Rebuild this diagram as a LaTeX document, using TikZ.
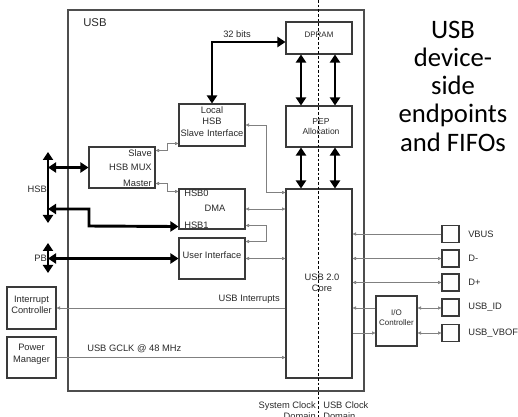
\documentclass[tikz,border=0pt]{standalone}
\usepackage{fontspec}
\setmainfont{Liberation Sans}
\newfontfamily\bigfont{Carlito}
\usetikzlibrary{arrows.meta,fit,calc}
\definecolor{boxc}{HTML}{3A3A3A}
\definecolor{sigc}{HTML}{808080}
\definecolor{txtc}{HTML}{2A2A2A}
\tikzset{
  box/.style={draw=boxc, line width=0.8pt, inner sep=0pt, fill=white},
  pin/.style={draw=boxc, line width=0.8pt, inner sep=0pt, fill=white, minimum width=12.75pt, minimum height=12.75pt},
  sig/.style={draw=sigc, line width=0.45pt, >={Triangle[length=2.6pt,width=2.4pt]}},
  bus/.style={line width=2.2pt, >={Triangle[length=6pt,width=7.5pt]}},
  lbl/.style={font=\fontsize{7}{8.6}\selectfont, text=txtc, inner sep=0pt},
  small/.style={font=\fontsize{6}{7.5}\selectfont, text=txtc, inner sep=0pt},
}
\begin{document}
\begin{tikzpicture}[x=0.75pt,y=-0.75pt]
\useasboundingbox (0,0) rectangle (518,417);
% outer USB box
\node[draw=boxc!90, line width=1.1pt, inner sep=0pt, fit={(68,10) (364,391)}] (usb) {};
\node[lbl, font=\fontsize{8.5}{10}\selectfont, anchor=west] (usblbl) at (83,23) {USB};
% boxes
\node[box, fit={(286,22) (352,54)}, small] (dpram) {DPRAM};
\node[box, fit={(286,106) (352,147)}] (pep) {};
\node[small, font=\fontsize{6.4}{8}\selectfont, align=center] (peptxt) at (321,126.5) {PEP\\Allocation};
\node[box, fit={(286,189) (352,378)}] (core) {};
\node[lbl, align=center] (coretxt) at (322,283) {USB 2.0\\Core};
\node[box, fit={(179,104) (245,146)}, lbl, align=center] (local) {Local\\HSB\\Slave Interface};
\node[box, fit={(89,147) (155,188)}] (mux) {};
\node[lbl, anchor=east] (slave) at (152,153) {Slave};
\node[lbl, anchor=east] (muxtxt) at (152,167.5) {HSB MUX};
\node[lbl, anchor=east] (master) at (152,183) {Master};
\node[box, fit={(179,189) (245,229)}] (dma) {};
\node[lbl, anchor=west] (hsb0) at (184,193) {HSB0};
\node[lbl] (dmatxt) at (215,208) {DMA};
\node[lbl, anchor=west] (hsb1) at (184,225) {HSB1};
\node[box, fit={(179,238) (245,279)}, lbl] (ui) {User Interface};
\node[box, fit={(7,287) (56,329)}, lbl, align=center] (intc) {Interrupt\\Controller};
\node[box, fit={(7,337) (56,378)}, lbl, align=center] (pm) {Power\\Manager};
\node[box, fit={(376,296) (417,346)}, small, align=center] (io) {I/O\\Controller};
% pins
\node[pin] (vbus) at (450.5,234) {};
\node[pin] (dm) at (450.5,258.5) {};
\node[pin] (dp) at (450.5,282.5) {};
\node[pin] (id) at (450.5,307.5) {};
\node[pin] (vbof) at (450.5,333) {};
\node[lbl, anchor=west] (vbusl) at (468,234) {VBUS};
\node[lbl, anchor=west] (dml) at (468,258.5) {D-};
\node[lbl, anchor=west] (dpl) at (468,282.5) {D+};
\node[lbl, anchor=west] (idl) at (468,307.5) {USB\_ID};
\node[lbl, anchor=west] (vbofl) at (468,333) {USB\_VBOF};
% thick buses
\draw[bus,<->] (local.north) |- ([yshift=-3pt]dpram.west);
\node[lbl] (bits) at (237,34) {32 bits};
\draw[bus,<->] ([xshift=-13.5pt]dpram.south) -- ([xshift=-13.5pt]pep.north);
\draw[bus,<->] ([xshift=12pt]dpram.south) -- ([xshift=12pt]pep.north);
\draw[bus,<->] ([xshift=-13.5pt]pep.south) -- ([xshift=-13.5pt]core.north);
\draw[bus,<->] ([xshift=12pt]pep.south) -- ([xshift=12pt]core.north);
\coordinate (hsbtop) at (48,152);
\coordinate (hsbbot) at (48,223);
\draw[bus,<->] (hsbbot) -- (hsbtop);
\draw[bus,<->] (mux.west -| hsbtop) -- (mux.west);
\coordinate (hsbtap) at (48,209);
\draw[bus,<->] (hsbtap) -| (89,226) -- ([yshift=2.25pt]dma.south west);
\node[lbl, anchor=east] (hsbl) at (47,189) {HSB};
\coordinate (pbtop) at (48,243);
\coordinate (pbbot) at (48,273);
\draw[bus,<->] (pbbot) -- (pbtop);
\draw[bus,<->] (ui.west -| pbtop) -- (ui.west);
\node[lbl, anchor=east] (pbl) at (47,258.5) {PB};
% thin signals
\draw[sig,<->] ([yshift=-3pt]mux.north east) -- ++(12,0) |- ([yshift=2.25pt]local.south west);
\draw[sig,<->] ([yshift=3.75pt]mux.south east) -- ++(12,0) |- ([yshift=-2.25pt]dma.north west);
\draw[sig,<->] (local.east) -- ++(21,0) |- ([yshift=-3pt]core.north west);
\draw[sig,<->] (dma.east) -- (dma.east -| core.west);
\draw[sig,<->] ([yshift=3pt]dma.south east) -- ++(21,0) |- ([yshift=-3pt]ui.north east);
\draw[sig,<->] (ui.east) -- (ui.east -| core.west);
\draw[sig,->] (core.west |- intc.east) -- (intc.east);
\node[lbl, anchor=south east] (intl) at (280,304) {USB Interrupts};
\draw[sig,->] (pm.east) -- (pm.east -| core.west);
\node[lbl, anchor=south west] (gclk) at (87,353) {USB GCLK @ 48 MHz};
\draw[sig,->] (vbus.west) -- (vbus.west -| core.east);
\draw[sig,<->] (dm.west) -- (dm.west -| core.east);
\draw[sig,<->] (dp.west) -- (dp.west -| core.east);
\draw[sig,->] ([yshift=9.75pt]io.west) -- ([yshift=9.75pt]io.west -| core.east);
\draw[sig,<-] ([yshift=-9pt]io.west) -- ([yshift=-9pt]io.west -| core.east);
\draw[sig,<->] ([yshift=9.75pt]io.east) -- ([yshift=9.75pt]io.east -| id.west);
\draw[sig,<->] ([yshift=-9pt]io.east) -- ([yshift=-9pt]io.east -| vbof.west);
% clock domain divider
\coordinate (dtop) at (318,0);
\coordinate (dbot) at (318,417);
\draw[line width=0.4pt, dash pattern=on 2pt off 1.5pt] (dtop) -- (dbot);
\node[lbl, align=right, anchor=north east] (sysclk) at (316,401) {System Clock\\Domain};
\node[lbl, align=left, anchor=north west] (usbclk) at (323,401) {USB Clock\\Domain};
% title text
\node[font=\bigfont\fontsize{20}{21.2}\selectfont, align=center, inner sep=0pt] (title) at (453,86) {USB\\device-\\side\\endpoints\\and FIFOs};
\end{tikzpicture}
\end{document}
